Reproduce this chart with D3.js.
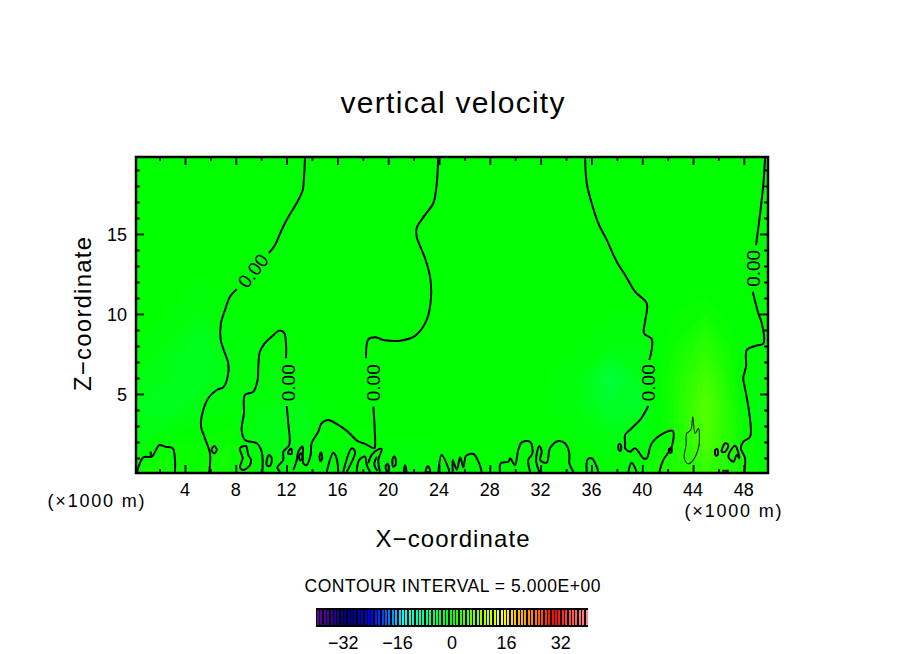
<!DOCTYPE html>
<html>
<head>
<meta charset="utf-8">
<script src="https://d3js.org/d3.v7.min.js"></script>
<style>
  body { margin: 0; background: white; }
  text { font-family: "Liberation Sans", sans-serif; fill: black; }
</style>
</head>
<body>
<svg width="904" height="654"></svg>
<script>

// vertical velocity, x in km, z in km
var fieldX = [0,2.5,5,7.5,10,12.5,15,17.5,20,22.5,25,27.5,30,32.5,35,37.5,40,42.5,45,47.5,50];
var fieldZ = [0,2,4,6,8,10,12,14,16,18,20];
var fieldW = [
  [1,1.5,1,1,.5,0,0,0,-.5,-.5,0,0,.5,0,0,.5,1,2,3,1.5,0],
  [-.5,.5,.5,1,-1,-1,0,0,0,0,0,0,0,0,0,-.5,-.5,1.5,4.5,1.5,-.5],
  [-1,-1.5,-.5,0,-.5,-1,0,0,0,0,0,0,0,0,-.5,-2,-1.5,1.5,5,1,-1.5],
  [-.5,-1,-1.5,-.5,0,0,0,0,0,0,0,0,0,0,-.5,-3,-1,1.5,4,.5,-.5],
  [0,-.5,-1.5,-.5,0,0,0,0,0,0,0,0,0,0,0,-.5,-.5,1,2.5,.5,0],
  [0,0,-.5,0,0,0,0,0,0,0,0,0,0,0,0,0,0,.5,1,0,0],
  [0,0,0,0,0,0,0,0,0,0,0,0,0,0,0,0,0,0,0,0,0],
  [0,0,0,0,0,0,0,0,0,0,0,0,0,0,0,0,0,0,0,0,0],
  [0,0,0,0,0,0,0,0,0,0,0,0,0,0,0,0,0,0,0,0,0],
  [0,0,0,0,0,0,0,0,0,0,0,0,0,0,0,0,0,0,0,0,0],
  [0,0,0,0,0,0,0,0,0,0,0,0,0,0,0,0,0,0,0,0,0]
];

// zero contour, open pieces
var zeroLines = [
  [[13.45,19.81],[13.37,18.56],[13.27,17.75],[12.8,16.94],[12.13,16.06],[11.61,15.25],[11.09,14.31],[10.61,13.81]],
  [[8.07,11.54],[7.54,11.08],[7.15,10.25],[6.83,9.42],[6.81,8.38],[7.15,7.54],[7.41,6.92],[7.36,6.08],[7.02,5.42],[6.5,5.25],[5.83,4.73],[5.31,3.58],[5.26,2.96],[5.57,2.23],[5.97,1.29],[5.91,0.14]],
  [[11.95,7.23],[11.95,8.17],[11.8,8.83],[11.43,8.96],[10.83,8.58],[10.3,8.2],[9.9,7.64],[9.77,6.71],[9.72,5.88],[9.38,5.14],[8.72,4.94],[8.64,3.79],[8.46,2.75],[8.72,2.13],[9.65,1.92],[10.04,1.39],[10.09,0.14]],
  [[12.01,4.25],[12.13,3.17],[12.21,1.81],[11.74,1.39],[11.74,0.88],[11.27,0.42],[11.48,0.14]],
  [[23.94,19.83],[23.82,18.17],[23.55,16.92],[22.9,16.19],[22.24,15.36],[22.24,14.83],[22.9,13.48],[23.29,12.33],[23.37,11.08],[23.03,9.63],[22.11,8.63],[20.93,8.33],[19.61,8.38],[18.97,8.54],[18.44,8.42],[18.25,7.23]],
  [[18.83,4.21],[18.96,1.71],[18.91,1.61],[18.17,1.88],[17.56,2.08],[16.72,2.71],[15.94,3.13],[15.28,3.38],[14.76,3.17],[14.49,2.64],[13.97,1.92],[13.89,1.19],[13.57,0.56],[13.31,0.67],[13.26,1.71],[12.92,1.39],[12.8,0.88],[12.53,0.25]],
  [[0.24,0.14],[0.72,1.04],[1.38,1.08],[1.72,1.5],[1.98,1.81],[2.43,1.71],[3.03,1.61],[3.21,0.88],[3.21,0.14]],
  [[1.3,1.1],[1.3,1.4]],
  [[15.16,0.14],[15.68,1.33],[15.94,0.98],[16.07,0.14]],
  [[16.46,0.14],[17.13,1.61],[17.39,1.39],[16.73,0.14]],
  [[17.52,0.14],[17.72,0.88],[18.17,1.08],[18.31,0.56],[18.57,0.14]],
  [[18.43,0.67],[18.7,1.19],[19.22,1.54],[19.49,1.56],[19.22,0.88],[19.35,0.14]],
  [[19.1,1.08],[18.9,0.6],[19.15,0.2]],
  [[23.95,0.14],[24.21,1.19],[24.73,0.38],[24.81,0.14]],
  [[25.08,0.14],[25.08,0.88],[25.4,0.27],[25.66,1.04],[25.92,0.42],[26.13,1.13],[26.71,1.25],[27.1,0.77],[27.36,0.14]],
  [[28.8,0.14],[28.86,0.67],[29.46,0.77],[29.59,0.98],[29.98,0.56],[30.24,1.5],[30.51,1.98],[31.17,2.02],[31.35,1.29],[31.03,0.88],[31.17,0.14]],
  [[31.9,0.14],[31.64,0.88],[31.9,1.75],[32.09,1.39],[31.96,0.88],[32.48,0.71],[32.74,1.61],[33.39,2.06],[33.92,1.92],[34.26,1.29],[34.26,0.67],[34.58,0.14]],
  [[35.63,0.14],[35.68,0.88],[36.02,0.98],[36.36,0.56],[36.54,0.14]],
  [[38.9,0.14],[39.17,0.71],[39.51,0.25],[39.57,0.14]],
  [[35.5,19.83],[35.63,18.17],[36.02,16.92],[36.54,15.67],[37.2,14.63],[37.99,13.27],[38.65,12.44],[39.43,11.39],[40.35,10.67],[40.22,9.52],[40.14,8.79],[40.75,8.42],[40.56,7.13]],
  [[40.48,4.25],[40.09,3.69],[39.83,3.38],[39.17,2.86],[38.65,2.44],[38.65,1.92],[38.65,1.61],[39.04,1.39],[39.43,1.61],[40.09,0.98],[40.35,0.98],[40.75,1.92],[41.66,2.54],[42.4,2.69],[42.32,1.71],[41.66,0.88],[41.35,0.14]],
  [[46.3,0.2],[46.8,0.2]],
  [[49.67,19.83],[49.54,18.17],[49.28,16.29],[48.96,14.31]],
  [[48.7,11.39],[49.14,10.04],[49.41,9.42],[49.54,8.17],[48.88,8],[48.23,7.75],[48.17,6.71],[47.96,6.08],[47.96,5.88],[48.17,5.04],[48.49,3.38],[48.49,2.33],[47.96,2.02],[47.76,1.61],[48.09,1],[48.04,0.14]]
];

// zero contour, small closed loops
var zeroLoops = [
  [[6.1,1.5],[6.3,1.75],[6.5,1.5],[6.3,1.3]],
  [[8.33,1.61],[8.8,1.75],[8.98,1.19],[9.2,0.88],[9.12,0.56],[8.59,0.25],[8.33,0.42],[8.54,0.98]],
  [[10.61,1.19],[10.83,0.98],[10.69,0.5],[10.43,0.56]],
  [[12.1,1.3],[12.35,1.6],[12.4,1.25]],
  [[13,1.15],[13.15,1.3],[13.25,1],[13.05,0.85]],
  [[14.6,1.15],[14.72,1.35],[14.8,0.95],[14.65,0.8]],
  [[19.8,0.5],[19.95,0.65],[20.05,0.3],[19.9,0.15]],
  [[20.35,0.95],[20.5,1.1],[20.6,0.6],[20.4,0.45]],
  [[21.25,0.14],[21.32,0.55],[21.42,0.14]],
  [[22.95,0.14],[23.13,0.5],[23.3,0.14]],
  [[38.15,1.85],[38.3,1.85],[38.3,1.45],[38.15,1.5]],
  [[42.1,1.55],[42.3,1.6],[42.3,1.35],[42.15,1.35]],
  [[45.75,1.5],[45.9,1.55],[45.95,1.2],[45.78,1.15]],
  [[46.26,1.39],[46.52,1.92],[46.78,1.81],[46.52,1.39]],
  [[46.78,1.08],[47.31,1.77],[47.65,0.98],[47.44,1.19],[47.18,0.77]]
];

// the one contour above zero, at 5
var plumeLine = [[43.98,3.58],[44.16,2.54],[44.42,2.85],[44.5,2.13],[44.42,1.61],[44.02,0.88],[43.63,0.63],[43.31,0.98],[43.45,1.81],[43.5,2.54],[43.82,2.75]];

// contour labels: x, z, rotation
var contourLabels = [
  {x: 9.35, z: 12.7, angle: -52},
  {x: 12.1, z: 5.7, angle: -90},
  {x: 18.8, z: 5.7, angle: -90},
  {x: 40.5, z: 5.7, angle: -90},
  {x: 48.75, z: 12.85, angle: -90}
];

var xMajor = d3.range(4, 50, 4);
var xMinor = d3.range(2, 50, 4);
var zMajor = [5, 10, 15];
var zMinor = d3.range(1, 20).filter(function(d) { return d % 5 != 0; });
var barTicks = [-32, -16, 0, 16, 32];
var barCells = d3.range(-40, 40);
var colorStops = [-40,-36,-32,-28,-24,-20,-17,-14.5,-7,0,7,14.7,24,30,34,40];
var colorValues = ['#6a00a8','#400090','#000090','#0000a8','#0000ff','#0050ff','#00a8ff','#00ffff','#00ff80','#00ff00','#80ff00','#ffff00','#ff8000','#ff0000','#ff4040','#ff9090'];

var svg = d3.select('svg');

var x = d3.scaleLinear().domain([0.143, 49.9]).range([136, 768]);
var z = d3.scaleLinear().domain([0.0625, 19.81]).range([473, 157]);
var color = d3.scaleLinear().domain(colorStops).range(colorValues);
var barX = d3.scaleLinear().domain([-40, 40]).range([316, 588]);

svg.append('clipPath').attr('id', 'plot')
  .append('rect')
  .attr('x', 136).attr('y', 157).attr('width', 632).attr('height', 316);

var plot = svg.append('g').attr('clip-path', 'url(#plot)');

// Background field
var thresholds = d3.range(-5.5, 7, 0.5);
var contours = d3.contours()
  .size([fieldX.length, fieldZ.length])
  .smooth(true)
  .thresholds(thresholds)(d3.merge(fieldW));

var gridPath = d3.geoPath(d3.geoTransform({
  point: function(i, j) {
    this.stream.point(x((i - 0.5) * 2.5), z((j - 0.5) * 2));
  }
}));

plot.append('rect')
  .attr('x', 136).attr('y', 157).attr('width', 632).attr('height', 316)
  .attr('fill', color(-6));

plot.selectAll('path.band')
  .data(contours)
  .enter().append('path')
  .attr('class', 'band')
  .attr('d', gridPath)
  .attr('fill', function(d) { return color(d.value); });

// Contour lines
var line = d3.line()
  .x(function(d) { return x(d[0]); })
  .y(function(d) { return z(d[1]); })
  .curve(d3.curveCatmullRom.alpha(0.5));
var loop = d3.line()
  .x(function(d) { return x(d[0]); })
  .y(function(d) { return z(d[1]); })
  .curve(d3.curveCatmullRomClosed.alpha(0.5));

plot.selectAll('path.zero')
  .data(zeroLines)
  .enter().append('path')
  .attr('class', 'zero')
  .attr('d', line)
  .attr('fill', 'none')
  .attr('stroke', 'black')
  .attr('stroke-width', 2);

plot.selectAll('path.loop')
  .data(zeroLoops)
  .enter().append('path')
  .attr('class', 'loop')
  .attr('d', loop)
  .attr('fill', 'none')
  .attr('stroke', 'black')
  .attr('stroke-width', 2);

plot.append('path')
  .attr('d', loop(plumeLine))
  .attr('fill', 'none')
  .attr('stroke', '#102000')
  .attr('stroke-width', 1.1);

svg.selectAll('text.clabel')
  .data(contourLabels)
  .enter().append('text')
  .attr('class', 'clabel')
  .attr('transform', function(d) {
    return 'translate(' + x(d.x) + ',' + z(d.z) + ') rotate(' + d.angle + ')';
  })
  .attr('text-anchor', 'middle')
  .attr('dy', '0.36em')
  .attr('font-size', 19)
  .attr('textLength', 37)
  .text('0.00');

// Frame and ticks, all pointing inward
function ticks(axis, pos, values, size) {
  var g = svg.append('g')
    .attr('transform', pos)
    .call(axis.tickValues(values).tickSize(size).tickFormat(''));
  g.select('.domain').remove();
  g.selectAll('.tick line').attr('stroke', 'black').attr('stroke-width', 1.8);
  g.selectAll('.tick text').remove();
}

ticks(d3.axisBottom(x), 'translate(0,473)', xMajor, -8);
ticks(d3.axisBottom(x), 'translate(0,473)', xMinor, -4);
ticks(d3.axisTop(x), 'translate(0,157)', xMajor, -8);
ticks(d3.axisTop(x), 'translate(0,157)', xMinor, -4);
ticks(d3.axisLeft(z), 'translate(136,0)', zMajor, -8);
ticks(d3.axisLeft(z), 'translate(136,0)', zMinor, -4);
ticks(d3.axisRight(z), 'translate(768,0)', zMajor, -8);
ticks(d3.axisRight(z), 'translate(768,0)', zMinor, -4);

svg.append('rect')
  .attr('x', 136).attr('y', 157).attr('width', 632).attr('height', 316)
  .attr('fill', 'none')
  .attr('stroke', 'black')
  .attr('stroke-width', 2.5);

// Tick labels
svg.selectAll('text.xlab')
  .data(xMajor)
  .enter().append('text')
  .attr('class', 'xlab')
  .attr('x', function(d) { return x(d); })
  .attr('y', 496)
  .attr('text-anchor', 'middle')
  .attr('font-size', 18)
  .text(function(d) { return d; });

svg.selectAll('text.zlab')
  .data(zMajor)
  .enter().append('text')
  .attr('class', 'zlab')
  .attr('x', 127)
  .attr('y', function(d) { return z(d) + 7; })
  .attr('text-anchor', 'end')
  .attr('font-size', 18)
  .text(function(d) { return d; });

// Titles, widths
function label(text, px, py, size, width, angle) {
  svg.append('text')
    .attr('transform', 'translate(' + px + ',' + py + ') rotate(' + (angle || 0) + ')')
    .attr('text-anchor', 'middle')
    .attr('font-size', size)
    .attr('textLength', width)
    .text(text);
}

label('vertical velocity', 452.5, 113, 30, 224);
label('X\u2212coordinate', 452.5, 547, 24, 154);
label('Z\u2212coordinate', 91, 314, 24, 154, -90);
label('(\u00d71000 m)', 96, 507, 18, 97);
label('(\u00d71000 m)', 733, 517, 18, 97);
label('CONTOUR INTERVAL = 5.000E+00', 452.5, 592, 17.5, 296);

// Colour bar
svg.append('rect')
  .attr('x', barX(-40)).attr('y', 608)
  .attr('width', barX(40) - barX(-40)).attr('height', 19)
  .attr('fill', 'black');

svg.selectAll('rect.cell')
  .data(barCells)
  .enter().append('rect')
  .attr('class', 'cell')
  .attr('x', function(d) { return barX(d) + 1; })
  .attr('y', 610)
  .attr('width', 2)
  .attr('height', 15)
  .attr('fill', function(d) { return color(d + 0.5); })
  .attr('shape-rendering', 'crispEdges');

svg.selectAll('text.blab')
  .data(barTicks)
  .enter().append('text')
  .attr('class', 'blab')
  .attr('x', function(d) { return barX(d); })
  .attr('y', 649)
  .attr('text-anchor', 'middle')
  .attr('font-size', 18)
  .text(function(d) { return d < 0 ? '\u2212' + (-d) : d; });

</script>
</body>
</html>
